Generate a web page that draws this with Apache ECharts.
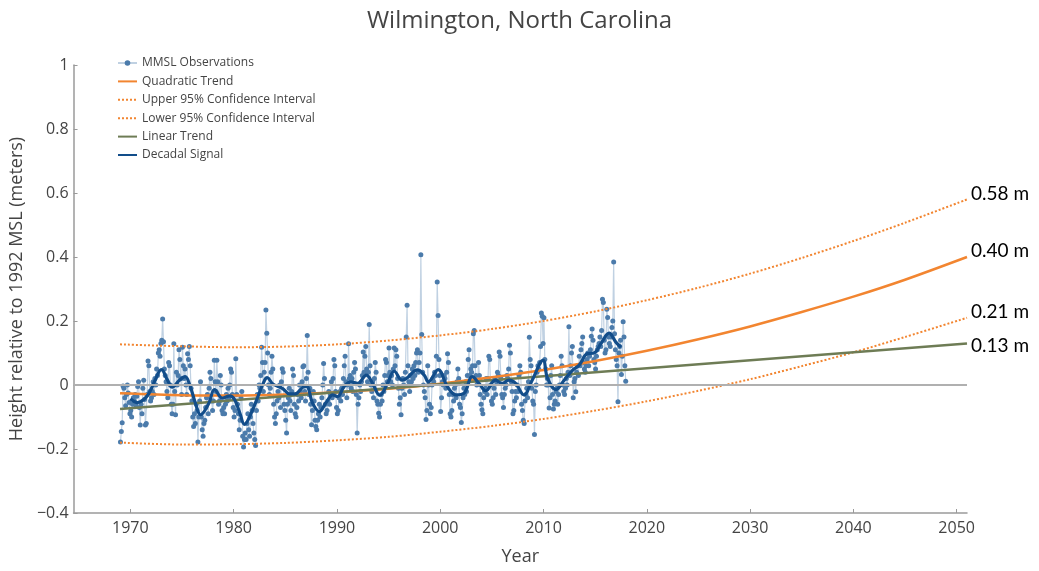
<!DOCTYPE html>
<html>
<head>
<meta charset="utf-8">
<title>Wilmington, North Carolina</title>
<script src="https://cdn.jsdelivr.net/npm/echarts@6/dist/echarts.min.js"></script>
<style>
  html, body { margin: 0; padding: 0; background: #fff; }
  #chart { width: 1039px; height: 571px; }
</style>
</head>
<body>
<div id="chart"></div>
<script>
// Monthly mean sea level (m, relative to 1992 MSL), Jan 1969 .. Dec 2017, 12 values per year
const obsStartYear = 1969;
const mmslValues = [
  -0.178, -0.145, -0.118, -0.003, -0.010, -0.040, -0.065, -0.030, 0.000, -0.025, -0.055, -0.090, // 1969
  -0.080, -0.100, -0.060, -0.040, -0.050, -0.030, -0.065, -0.035, -0.005, 0.010, -0.070, -0.125, // 1970
  -0.060, -0.090, -0.010, 0.015, -0.045, -0.125, -0.120, -0.030, 0.075, 0.060, -0.020, -0.050,   // 1971
  -0.040, -0.020, 0.010, -0.030, 0.020, 0.000, 0.050, 0.030, 0.100, 0.110, 0.090, 0.130,         // 1972
  0.140, 0.206, 0.135, 0.050, 0.030, 0.010, -0.020, -0.040, 0.070, 0.060, 0.000, -0.060,         // 1973
  -0.090, -0.060, 0.129, -0.020, -0.093, 0.040, 0.000, 0.030, 0.110, 0.080, 0.020, -0.030,       // 1974
  0.118, 0.060, 0.020, 0.050, 0.000, -0.030, 0.098, 0.080, 0.120, 0.060, -0.010, -0.050,         // 1975
  -0.100, -0.130, -0.090, -0.120, -0.060, -0.080, -0.178, -0.100, -0.050, 0.010, -0.100, -0.140, // 1976
  -0.160, -0.120, -0.110, -0.070, -0.040, -0.030, -0.090, -0.010, 0.040, 0.020, -0.050, -0.080, // 1977
  -0.050, 0.077, 0.010, -0.020, 0.077, 0.010, -0.060, -0.050, 0.030, 0.000, -0.080, -0.090,      // 1978
  -0.070, -0.090, -0.060, -0.030, -0.050, -0.010, -0.040, 0.000, 0.050, 0.040, -0.030, -0.070,  // 1979
  -0.100, -0.080, 0.082, -0.030, -0.060, -0.090, -0.140, -0.110, -0.040, -0.020, -0.160, -0.194, // 1980
  -0.170, -0.150, -0.170, -0.120, -0.090, -0.140, -0.160, -0.100, -0.060, -0.080, -0.120, -0.150, // 1981
  -0.170, -0.189, -0.080, -0.030, -0.050, 0.000, -0.010, 0.030, 0.118, 0.070, -0.020, 0.040,    // 1982
  0.070, 0.234, 0.162, 0.100, 0.000, -0.030, -0.010, 0.040, 0.090, 0.050, -0.060, -0.100,        // 1983
  -0.120, -0.090, -0.050, -0.020, -0.040, 0.000, -0.070, 0.010, 0.051, 0.040, -0.060, -0.080,   // 1984
  -0.110, -0.150, -0.060, -0.040, -0.010, -0.050, -0.080, -0.020, 0.050, 0.030, -0.060, -0.090, // 1985
  -0.100, -0.070, -0.030, -0.050, 0.000, -0.020, -0.040, 0.010, 0.057, 0.060, -0.020, -0.050,   // 1986
  0.020, 0.155, 0.040, -0.030, -0.010, -0.060, -0.124, -0.080, -0.020, -0.050, -0.110, -0.130,  // 1987
  -0.140, -0.110, -0.090, -0.060, -0.100, -0.070, -0.040, 0.000, 0.067, 0.020, -0.060, -0.090,  // 1988
  -0.080, -0.050, -0.020, -0.060, -0.030, 0.010, -0.040, 0.020, 0.080, 0.060, -0.020, -0.070,   // 1989
  -0.090, -0.080, -0.040, -0.020, -0.050, -0.010, -0.030, 0.020, 0.060, 0.090, 0.010, -0.040,   // 1990
  0.000, 0.129, 0.020, 0.030, -0.010, 0.020, -0.020, 0.040, 0.070, 0.050, -0.030, -0.150,       // 1991
  -0.060, -0.040, 0.000, -0.020, 0.010, 0.030, 0.103, 0.040, 0.090, 0.120, 0.050, 0.010,        // 1992
  0.040, 0.189, 0.060, 0.000, -0.020, 0.010, -0.040, 0.020, 0.070, 0.040, -0.050, -0.060,       // 1993
  -0.088, -0.100, -0.060, -0.030, -0.050, 0.000, -0.020, 0.030, 0.080, 0.070, 0.010, 0.030,     // 1994
  0.116, 0.040, 0.010, 0.030, 0.000, 0.050, 0.116, 0.060, 0.110, 0.090, 0.020, -0.010,          // 1995
  -0.060, -0.040, -0.093, -0.010, 0.020, 0.000, -0.030, 0.040, 0.150, 0.249, 0.060, 0.010,      // 1996
  -0.020, 0.030, 0.010, 0.050, 0.020, 0.060, 0.030, 0.070, 0.100, 0.110, 0.040, 0.070,          // 1997
  0.100, 0.407, 0.158, 0.040, 0.000, -0.020, -0.040, -0.108, -0.080, 0.060, 0.000, -0.060,      // 1998
  -0.090, -0.070, 0.000, 0.020, 0.010, 0.040, 0.030, 0.090, 0.322, 0.217, 0.080, 0.030,         // 1999
  -0.083, -0.040, 0.010, 0.000, 0.030, 0.020, -0.010, 0.040, 0.098, 0.070, -0.030, -0.090,      // 2000
  -0.100, -0.080, -0.030, -0.050, -0.010, 0.000, -0.040, 0.010, 0.050, 0.020, -0.060, -0.070,   // 2001
  -0.117, -0.090, -0.040, -0.010, -0.030, 0.010, -0.020, 0.030, 0.080, 0.110, 0.030, 0.050,     // 2002
  0.040, 0.060, 0.160, 0.170, 0.060, 0.030, 0.000, 0.010, 0.070, 0.030, -0.030, -0.060,         // 2003
  -0.077, -0.090, -0.040, -0.020, -0.010, 0.020, -0.030, 0.020, 0.090, 0.080, 0.000, -0.050,    // 2004
  -0.060, -0.040, -0.010, 0.020, -0.030, 0.010, 0.040, 0.030, 0.103, 0.090, 0.020, -0.030,      // 2005
  -0.040, -0.070, -0.030, -0.010, 0.000, 0.030, 0.020, 0.050, 0.124, 0.100, 0.010, -0.020,      // 2006
  -0.090, -0.080, -0.050, -0.020, -0.040, 0.000, -0.020, 0.030, 0.060, 0.040, -0.060, -0.080,   // 2007
  -0.110, -0.120, -0.050, -0.030, -0.010, -0.040, 0.010, 0.149, 0.080, 0.060, -0.010, -0.050,   // 2008
  -0.060, -0.155, -0.020, 0.000, 0.040, 0.060, 0.050, 0.070, 0.120, 0.225, 0.215, 0.130,        // 2009
  0.210, 0.080, 0.050, 0.000, 0.020, 0.000, -0.072, -0.040, 0.030, 0.060, -0.030, -0.075,       // 2010
  -0.060, -0.050, -0.020, -0.010, -0.060, -0.030, 0.000, 0.030, 0.090, 0.060, 0.000, -0.020,    // 2011
  -0.030, -0.010, 0.020, 0.000, 0.040, 0.182, 0.030, 0.060, 0.100, 0.120, -0.040, 0.010,        // 2012
  0.020, -0.021, 0.040, 0.060, 0.030, 0.090, 0.060, 0.110, 0.130, 0.150, 0.070, 0.050,          // 2013
  0.040, 0.060, 0.080, 0.100, 0.060, 0.090, 0.110, 0.152, 0.175, 0.140, 0.080, 0.070,           // 2014
  0.050, 0.090, 0.110, 0.120, 0.130, 0.150, 0.120, 0.170, 0.268, 0.258, 0.140, 0.100,           // 2015
  0.110, 0.237, 0.211, 0.150, 0.130, 0.120, 0.150, 0.180, 0.200, 0.384, 0.160, 0.110,           // 2016
  0.080, 0.060, -0.052, 0.100, 0.120, 0.140, 0.033, 0.090, 0.198, 0.150, 0.060, 0.012           // 2017
];

// Smoothed decadal signal: [year, height]
const decadalSignal = [
  [1970.0, -0.043], [1970.7, -0.055], [1971.3, -0.045], [1971.8, -0.026], [1972.4, 0.015],
  [1973.0, 0.048], [1973.6, 0.015], [1974.05, -0.007], [1974.7, 0.013], [1975.3, 0.026],
  [1975.8, -0.005], [1976.3, -0.057], [1976.8, -0.093], [1977.6, -0.057], [1978.15, -0.014],
  [1978.9, -0.041], [1979.65, -0.034], [1980.1, -0.046], [1980.6, -0.088], [1981.05, -0.123],
  [1981.7, -0.088], [1982.35, -0.036], [1983.0, 0.015], [1983.25, 0.023], [1983.8, 0.003],
  [1984.75, -0.011], [1985.4, -0.028], [1985.9, -0.028], [1986.7, -0.007], [1987.05, -0.004],
  [1987.65, -0.057], [1988.3, -0.083], [1988.95, -0.055], [1989.6, -0.031], [1990.05, -0.036],
  [1990.7, -0.005], [1991.35, 0.010], [1992.0, 0.005], [1992.85, 0.031], [1993.45, 0.005],
  [1994.15, -0.032], [1994.9, 0.005], [1995.55, 0.043], [1996.3, 0.015], [1996.7, 0.020],
  [1997.8, 0.047], [1998.45, 0.031], [1998.85, 0.010], [1999.8, 0.048], [2000.7, -0.005],
  [2001.55, -0.031], [2002.3, -0.026], [2003.1, 0.026], [2003.75, 0.005], [2004.4, -0.018],
  [2005.35, 0.015], [2006.0, 0.005], [2006.65, 0.015], [2007.3, 0.005], [2008.1, -0.031],
  [2008.9, 0.015], [2009.95, 0.077], [2010.4, 0.020], [2011.2, -0.014], [2012.0, 0.015],
  [2012.8, 0.046], [2013.45, 0.062], [2014.25, 0.098], [2014.9, 0.100], [2015.55, 0.129],
  [2016.35, 0.162], [2017.0, 0.134], [2017.5, 0.118]
];

// Fitted trends and projection to 2051
const trendYears = [1969, 1975, 1980, 1985, 1990, 1995, 2000, 2005, 2010, 2015, 2020, 2025, 2030, 2035, 2040, 2045, 2051];
const quadraticTrend = [-0.026, -0.032, -0.033, -0.030, -0.023, -0.012, 0.004, 0.024, 0.047, 0.075, 0.107, 0.143, 0.183, 0.228, 0.276, 0.329, 0.40];
const upperCI = [0.127, 0.121, 0.118, 0.120, 0.127, 0.139, 0.155, 0.175, 0.200, 0.230, 0.265, 0.304, 0.348, 0.397, 0.450, 0.507, 0.58];
const lowerCI = [-0.180, -0.186, -0.185, -0.181, -0.173, -0.162, -0.146, -0.128, -0.106, -0.080, -0.051, -0.018, 0.018, 0.059, 0.102, 0.150, 0.21];
const linearYears = [1969, 2051];
const linearTrend = [-0.075, 0.13];

const xTicks = [1970, 1980, 1990, 2000, 2010, 2020, 2030, 2040, 2050];
const yTicks = [-0.4, -0.2, 0, 0.2, 0.4, 0.6, 0.8, 1];

const obsData = mmslValues.map((v, i) => [obsStartYear + (i + 0.5) / 12, v]);
const pair = (xs, ys) => xs.map((x, i) => [x, ys[i]]);

const plotFont = "'Open Sans', 'Noto Sans', sans-serif";
const axisGrey = '#9a9a9a';
const orange = '#f28530';

function endLabel(dy) {
  return {
    show: true,
    formatter: p => p.value[1].toFixed(2) + ' m',
    color: '#000',
    fontFamily: "Lato, 'Open Sans', sans-serif",
    fontSize: 19,
    distance: 4,
    offset: [0, dy]
  };
}

// legend entry that shows only the line sample (no marker)
const lineOnly = name => ({ name, itemStyle: { opacity: 0 } });

const chart = echarts.init(document.getElementById('chart'), null, { renderer: 'canvas' });
chart.setOption({
  animation: false,
  backgroundColor: '#fff',
  textStyle: { fontFamily: plotFont },
  title: {
    text: 'Wilmington, North Carolina',
    left: 'center',
    top: 4,
    textStyle: { fontFamily: plotFont, fontSize: 24, fontWeight: 'normal', color: '#444' }
  },
  legend: {
    orient: 'vertical',
    left: 112,
    top: 52,
    itemWidth: 19,
    itemHeight: 7,
    itemGap: 6.4,
    textStyle: { fontFamily: plotFont, fontSize: 12, color: '#444' },
    data: [
      { name: 'MMSL Observations' },
      lineOnly('Quadratic Trend'),
      lineOnly('Upper 95% Confidence Interval'),
      lineOnly('Lower 95% Confidence Interval'),
      lineOnly('Linear Trend'),
      lineOnly('Decadal Signal')
    ]
  },
  grid: { left: 72, right: 72, top: 65, bottom: 53 },
  xAxis: {
    type: 'value',
    min: 1964.5,
    max: 2051,
    name: 'Year',
    nameLocation: 'middle',
    nameGap: 35,
    nameTextStyle: { fontFamily: plotFont, fontSize: 18, color: '#444' },
    axisLine: { show: true, onZero: false, lineStyle: { color: axisGrey, width: 1.5 } },
    axisTick: { show: true, inside: true, length: 4, customValues: xTicks, lineStyle: { color: axisGrey } },
    axisLabel: {
      customValues: xTicks, fontFamily: plotFont, fontSize: 16, color: '#444', margin: 7,
      formatter: v => String(Math.round(v))
    },
    splitLine: { show: false }
  },
  yAxis: {
    type: 'value',
    min: -0.4,
    max: 1,
    name: 'Height relative to 1992 MSL (meters)',
    nameLocation: 'middle',
    nameGap: 41,
    nameTextStyle: { fontFamily: plotFont, fontSize: 18, color: '#444' },
    axisLine: { show: true, onZero: false, lineStyle: { color: axisGrey, width: 1.5 } },
    axisTick: { show: true, inside: true, length: 4, customValues: yTicks, lineStyle: { color: axisGrey } },
    axisLabel: {
      customValues: yTicks,
      fontFamily: plotFont, fontSize: 16, color: '#444', margin: 5,
      formatter: v => String(Math.round(v * 10) / 10).replace('-', '\u2212')
    },
    splitLine: { show: false }
  },
  series: [
    {
      name: 'MMSL Observations',
      type: 'line',
      data: obsData,
      symbol: 'circle',
      symbolSize: 5,
      showSymbol: true,
      itemStyle: { color: '#4b7bab' },
      lineStyle: { color: 'rgba(75,123,171,0.35)', width: 1.2 },
      markLine: {
        silent: true,
        symbol: 'none',
        label: { show: false },
        lineStyle: { color: '#b0b0b0', width: 2, type: 'solid' },
        data: [{ yAxis: 0 }]
      },
      z: 2
    },
    {
      name: 'Quadratic Trend',
      type: 'line',
      data: pair(trendYears, quadraticTrend),
      smooth: 0.3,
      symbol: 'none',
      clip: false,
      itemStyle: { color: orange },
      lineStyle: { color: orange, width: 2.5 },
      endLabel: endLabel(-6),
      z: 3
    },
    {
      name: 'Upper 95% Confidence Interval',
      type: 'line',
      data: pair(trendYears, upperCI),
      smooth: 0.3,
      symbol: 'none',
      clip: false,
      itemStyle: { color: orange },
      lineStyle: { color: orange, width: 2, type: 'dotted' },
      endLabel: endLabel(-5.5),
      z: 3
    },
    {
      name: 'Lower 95% Confidence Interval',
      type: 'line',
      data: pair(trendYears, lowerCI),
      smooth: 0.3,
      symbol: 'none',
      clip: false,
      itemStyle: { color: orange },
      lineStyle: { color: orange, width: 2, type: 'dotted' },
      endLabel: endLabel(-5.5),
      z: 3
    },
    {
      name: 'Linear Trend',
      type: 'line',
      data: pair(linearYears, linearTrend),
      symbol: 'none',
      clip: false,
      itemStyle: { color: '#6e7c55' },
      lineStyle: { color: '#6e7c55', width: 2.5 },
      endLabel: endLabel(2),
      z: 3
    },
    {
      name: 'Decadal Signal',
      type: 'line',
      data: decadalSignal,
      smooth: 0.4,
      symbol: 'none',
      itemStyle: { color: '#124d8a' },
      lineStyle: { color: '#124d8a', width: 3.2 },
      z: 4
    }
  ]
});
</script>
</body>
</html>
